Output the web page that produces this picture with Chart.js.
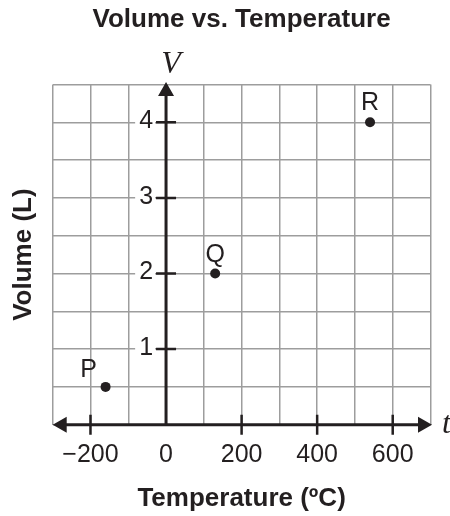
<!DOCTYPE html>
<html>
<head>
<meta charset="utf-8">
<script src="https://cdn.jsdelivr.net/npm/chart.js@4/dist/chart.umd.min.js"></script>
<style>
  html, body { margin: 0; padding: 0; background: #fff; }
  #wrap { width: 450px; height: 516px; position: relative; }
</style>
</head>
<body>
<div id="wrap"><canvas id="chart"></canvas></div>
<script>
const pointNames = ['P', 'Q', 'R'];
const temperatures = [-160, 130, 540];
const volumes = [0.5, 2, 4];

const xTickValues = [-200, 0, 200, 400, 600];
const xTickLabels = ['\u2212200', '0', '200', '400', '600'];
const yTickValues = [1, 2, 3, 4];
const yTickLabels = ['1', '2', '3', '4'];

const INK = '#231f20';
const GRID = '#9d9d9d';
const SANS = '"Liberation Sans", Arial, Helvetica, sans-serif';
const SERIF = '"Liberation Serif", "Times New Roman", serif';

// label offsets for P, Q, R (px)
const labelShift = { P: [-17, -10], Q: [0, -12], R: [0, -12] };

const axesPlugin = {
  id: 'axes',
  beforeDatasetsDraw(chart) {
    const { ctx, chartArea: a, scales: { x, y } } = chart;
    const x0 = x.getPixelForValue(0);
    const y0 = y.getPixelForValue(0);
    ctx.save();

    // y tick labels sitting on the axis, white backdrop
    ctx.font = '25px ' + SANS;
    ctx.textAlign = 'right';
    ctx.textBaseline = 'middle';
    yTickValues.forEach((v, i) => {
      const py = y.getPixelForValue(v);
      const w = ctx.measureText(yTickLabels[i]).width;
      ctx.fillStyle = '#fff';
      ctx.fillRect(x0 - 13 - w - 4, py - 12, w + 6, 24);
      ctx.fillStyle = INK;
      ctx.fillText(yTickLabels[i], x0 - 13, py - 1);
    });

    ctx.strokeStyle = INK;
    ctx.fillStyle = INK;

    // tick marks
    ctx.lineWidth = 2.5;
    ctx.beginPath();
    xTickValues.forEach(v => {
      if (v === 0) return;
      const px = x.getPixelForValue(v);
      ctx.moveTo(px, y0 - 10);
      ctx.lineTo(px, y0 + 10);
    });
    yTickValues.forEach(v => {
      const py = y.getPixelForValue(v);
      ctx.moveTo(x0 - 10, py);
      ctx.lineTo(x0 + 10, py);
    });
    ctx.stroke();

    // axis lines
    const head = 14, half = 8;
    const left = a.left, right = a.right + 1.5, top = a.top - 2.5;
    ctx.lineWidth = 3;
    ctx.beginPath();
    ctx.moveTo(left + head - 1, y0);
    ctx.lineTo(right - head + 1, y0);
    ctx.moveTo(x0, y0);
    ctx.lineTo(x0, top + head - 1);
    ctx.stroke();

    // arrow heads
    ctx.beginPath();
    ctx.moveTo(left, y0);
    ctx.lineTo(left + head, y0 - half);
    ctx.lineTo(left + head, y0 + half);
    ctx.closePath();
    ctx.moveTo(right, y0);
    ctx.lineTo(right - head, y0 - half);
    ctx.lineTo(right - head, y0 + half);
    ctx.closePath();
    ctx.moveTo(x0, top);
    ctx.lineTo(x0 - half, top + head);
    ctx.lineTo(x0 + half, top + head);
    ctx.closePath();
    ctx.fill();

    // variable names
    ctx.font = 'italic 32px ' + SERIF;
    ctx.textAlign = 'center';
    ctx.textBaseline = 'alphabetic';
    ctx.fillText('V', x0 + 5, top - 9);
    ctx.textAlign = 'left';
    ctx.textBaseline = 'middle';
    ctx.fillText('t', right + 10, y0);

    ctx.restore();
  },
  afterDatasetsDraw(chart) {
    const { ctx } = chart;
    const meta = chart.getDatasetMeta(0);
    ctx.save();
    ctx.font = '25px ' + SANS;
    ctx.fillStyle = INK;
    ctx.textAlign = 'center';
    ctx.textBaseline = 'alphabetic';
    meta.data.forEach((pt, i) => {
      const name = pointNames[i];
      const s = labelShift[name] || [0, -12];
      ctx.fillText(name, pt.x + s[0], pt.y + s[1]);
    });
    ctx.restore();
  }
};

new Chart(document.getElementById('chart'), {
  type: 'scatter',
  data: {
    datasets: [{
      label: 'Volume',
      data: temperatures.map((t, i) => ({ x: t, y: volumes[i] })),
      pointRadius: 5,
      pointHoverRadius: 5,
      pointBackgroundColor: INK,
      pointBorderWidth: 0
    }]
  },
  options: {
    responsive: true,
    maintainAspectRatio: false,
    animation: false,
    layout: { padding: { left: 0, right: 19.5, top: 0, bottom: 0 } },
    plugins: {
      legend: { display: false },
      tooltip: { enabled: false },
      title: {
        display: true,
        text: 'Volume vs. Temperature',
        color: INK,
        fullSize: false,
        font: { family: SANS, size: 26, weight: 'bold', lineHeight: 1.2 },
        padding: { top: 4.5, bottom: 48.8 }
      }
    },
    scales: {
      x: {
        type: 'linear',
        min: -300,
        max: 700,
        border: { display: false },
        grid: { color: GRID, lineWidth: 1.5, drawTicks: false },
        ticks: {
          stepSize: 100,
          autoSkip: false,
          maxRotation: 0,
          minRotation: 0,
          padding: 17.8,
          color: INK,
          font: { family: SANS, size: 25, lineHeight: 1 },
          callback: v => {
            const i = xTickValues.indexOf(v);
            return i >= 0 ? xTickLabels[i] : '';
          }
        },
        title: {
          display: true,
          text: 'Temperature (ºC)',
          color: INK,
          font: { family: SANS, size: 26, weight: 'bold', lineHeight: 1.2 },
          // ticks padding is counted twice in the axis height, take it back here
          padding: { top: -2, bottom: 1.5 }
        }
      },
      y: {
        type: 'linear',
        min: 0,
        max: 4.5,
        border: { display: false },
        grid: { color: GRID, lineWidth: 1.5, drawTicks: false },
        ticks: { stepSize: 0.5, autoSkip: false, display: false },
        title: {
          display: true,
          text: 'Volume (L)',
          color: INK,
          font: { family: SANS, size: 26, weight: 'bold', lineHeight: 1.2 },
          padding: { top: 8.5, bottom: 13 }
        }
      }
    }
  },
  plugins: [axesPlugin]
});
</script>
</body>
</html>
